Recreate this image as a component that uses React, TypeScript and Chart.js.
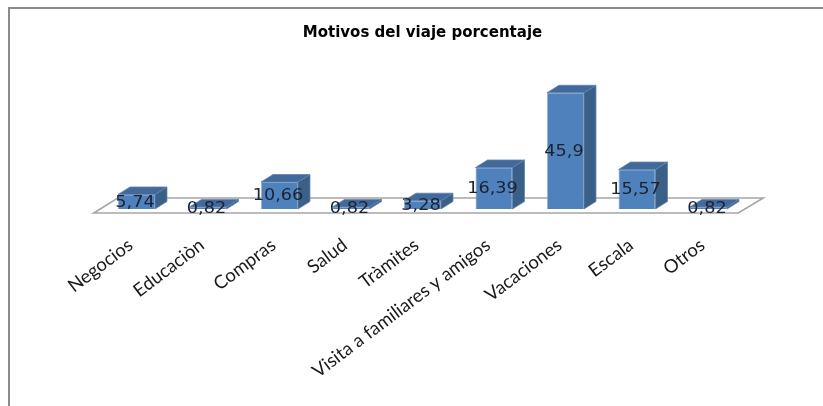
import React, { useEffect, useRef } from "react";
import { Chart, registerables } from "chart.js";

Chart.register(...registerables);

const categories = ["Negocios", "Educaciòn", "Compras", "Salud", "Tràmites", "Visita a familiares y amigos", "Vacaciones", "Escala", "Otros"];
const values = [5.74, 0.82, 10.66, 0.82, 3.28, 16.39, 45.9, 15.57, 0.82];
const valueLabels = ["5,74", "0,82", "10,66", "0,82", "3,28", "16,39", "45,9", "15,57", "0,82"];
const chartTitle = "Motivos del viaje porcentaje";

const DX = 12;
const DY = 7.5;

const scene3d = {
  id: "scene3d",
  beforeDatasetsDraw(chart: any) {
    const { ctx, chartArea: a, width, height } = chart;
    ctx.save();
    ctx.strokeStyle = "#8c8c8c";
    ctx.lineWidth = 2;
    ctx.beginPath();
    ctx.moveTo(9, height);
    ctx.lineTo(9, 8);
    ctx.lineTo(width, 8);
    ctx.stroke();
    ctx.strokeStyle = "#a6a6a6";
    ctx.lineWidth = 1.6;
    ctx.fillStyle = "#ffffff";
    const fy = a.bottom + 4;
    ctx.beginPath();
    ctx.moveTo(a.left - 7, fy);
    ctx.lineTo(a.right - 6, fy);
    ctx.lineTo(a.right + 19, fy - 15);
    ctx.lineTo(a.left + 17, fy - 15);
    ctx.closePath();
    ctx.fill();
    ctx.stroke();
    ctx.restore();
  },
  afterDatasetsDraw(chart: any) {
    const { ctx } = chart;
    const meta = chart.getDatasetMeta(0);
    ctx.save();
    meta.data.forEach((bar: any) => {
      const l = bar.x - bar.width / 2;
      const r = bar.x + bar.width / 2;
      const t = bar.y;
      const b = bar.base;
      ctx.lineWidth = 0.8;
      ctx.fillStyle = "#3a6088";
      ctx.strokeStyle = "#5f84ad";
      ctx.beginPath();
      ctx.moveTo(r, t);
      ctx.lineTo(r + DX, t - DY);
      ctx.lineTo(r + DX, b - DY);
      ctx.lineTo(r, b);
      ctx.closePath();
      ctx.fill();
      ctx.stroke();
      ctx.fillStyle = "#41699b";
      ctx.beginPath();
      ctx.moveTo(l, t);
      ctx.lineTo(l + DX, t - DY);
      ctx.lineTo(r + DX, t - DY);
      ctx.lineTo(r, t);
      ctx.closePath();
      ctx.fill();
      ctx.stroke();
    });
    ctx.fillStyle = "#1c2230";
    ctx.font = "15px 'DejaVu Sans', sans-serif";
    ctx.textAlign = "center";
    ctx.textBaseline = "middle";
    meta.data.forEach((bar: any, i: number) => {
      ctx.save();
      ctx.translate(bar.x - 1.5, (bar.y + bar.base) / 2 + 1);
      ctx.scale(1.18, 1);
      ctx.fillText(valueLabels[i], 0, 0);
      ctx.restore();
    });
    ctx.restore();
  },
};

export default function App() {
  const ref = useRef<HTMLCanvasElement>(null);
  useEffect(() => {
    document.body.style.margin = "0";
    const chart = new Chart(ref.current!, {
      type: "bar",
      data: {
        labels: categories,
        datasets: [
          {
            data: values,
            backgroundColor: "#4f81bd",
            borderColor: "#8fb0d8",
            borderWidth: 0.8,
            barPercentage: 0.517,
            categoryPercentage: 1,
          },
        ],
      },
      plugins: [scene3d],
      options: {
        animation: false,
        responsive: false,
        layout: { padding: { left: 100.75, right: 78.75, top: 24, bottom: 0 } },
        plugins: {
          legend: { display: false },
          tooltip: { enabled: false },
          title: {
            display: true,
            text: chartTitle,
            color: "#000000",
            font: { family: "'DejaVu Sans', sans-serif", size: 15, weight: "bold" },
            padding: { top: 0, bottom: 10 },
          },
        },
        scales: {
          x: {
            grid: { display: false },
            border: { display: false },
            afterFit: (s: any) => {
              s.height = 197;
            },
            ticks: {
              autoSkip: false,
              maxRotation: 37,
              minRotation: 37,
              padding: 17,
              labelOffset: -6,
              color: "#1a1a1a",
              font: { family: "Lato, 'Open Sans', sans-serif", size: 18.5 },
            },
          },
          y: {
            display: false,
            min: 0,
            max: 62,
          },
        },
      },
    });
    return () => chart.destroy();
  }, []);
  return <canvas ref={ref} width={823} height={406} style={{ display: "block" }} />;
}
